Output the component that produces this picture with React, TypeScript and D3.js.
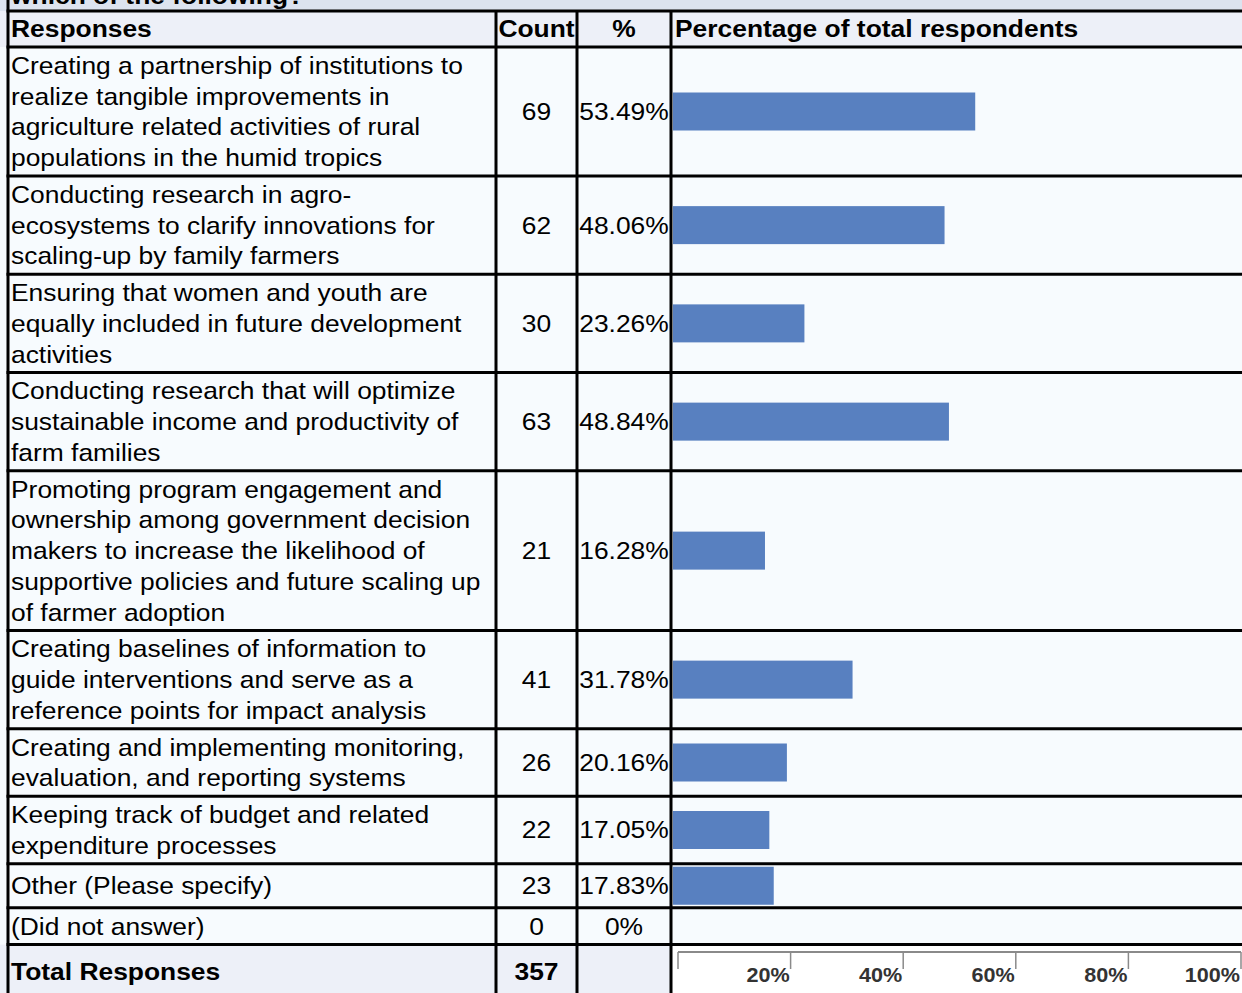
import * as d3 from 'd3';

// survey responses, wrapped as in the original table
const responseLines: string[][] = [
  ['Creating a partnership of institutions to', 'realize tangible improvements in', 'agriculture related activities of rural', 'populations in the humid tropics'],
  ['Conducting research in agro-', 'ecosystems to clarify innovations for', 'scaling-up by family farmers'],
  ['Ensuring that women and youth are', 'equally included in future development', 'activities'],
  ['Conducting research that will optimize', 'sustainable income and productivity of', 'farm families'],
  ['Promoting program engagement and', 'ownership among government decision', 'makers to increase the likelihood of', 'supportive policies and future scaling up', 'of farmer adoption'],
  ['Creating baselines of information to', 'guide interventions and serve as a', 'reference points for impact analysis'],
  ['Creating and implementing monitoring,', 'evaluation, and reporting systems'],
  ['Keeping track of budget and related', 'expenditure processes'],
  ['Other (Please specify)'],
  ['(Did not answer)'],
];
const counts = [69, 62, 30, 63, 21, 41, 26, 22, 23, 0];
const percents = [53.49, 48.06, 23.26, 48.84, 16.28, 31.78, 20.16, 17.05, 17.83, 0];
const totalResponses = 357;
const axisTicks = [20, 40, 60, 80, 100];

const W = 1242;
const H = 993;
const FONT = '"Liberation Sans", Arial, sans-serif';
const FS = 24;
const SX = 1.1; // the source text is drawn a bit wide
const LINE_H = 30.75;
const PAD = 6;
const BAR_H = 38;

const colX = { left: 8, count: 496, pct: 577, bar: 671, right: W };
const titleBottom = 11;
const headerBottom = 47;

type TProps = {
  x: number; y: number; children: any; anchor?: string; bold?: boolean;
  size?: number; fill?: string; sx?: number; dy?: string;
};
function T({ x, y, children, anchor = 'start', bold = false, size = FS, fill = '#000', sx = SX, dy = '0.35em' }: TProps) {
  return (
    <text transform={`translate(${x},${y}) scale(${sx},1)`} dy={dy} textAnchor={anchor}
      fontSize={size} fontWeight={bold ? 'bold' : 'normal'} fill={fill}>{children}</text>
  );
}

export default function App() {
  // row geometry
  const heights = responseLines.map((ls, i) =>
    Math.max(ls.length * LINE_H + PAD, percents[i] > 0 ? BAR_H + PAD : 0));
  const tops: number[] = [];
  let acc = headerBottom;
  heights.forEach(h => { tops.push(acc); acc += h; });
  const totalTop = acc;
  const totalH = 56;

  const x = d3.scaleLinear().domain([0, 100]).range([colX.bar + 2, 1238]);
  const xAxis = d3.scaleLinear().domain([0, 100]).range([678, 1241]);
  const axisY = 952;

  const fmtPct = (v: number) => (v === 0 ? '0%' : `${v.toFixed(2)}%`);
  const midCount = (colX.count + colX.pct) / 2;
  const midPct = (colX.pct + colX.bar) / 2;
  const headY = (titleBottom + headerBottom) / 2;

  const hLines = [titleBottom, headerBottom, ...tops.slice(1), totalTop];

  return (
    <svg width={W} height={H} style={{ position: 'absolute', left: 0, top: 0, display: 'block' }}
      fontFamily={FONT}>
      {/* title strip */}
      <rect x={0} y={0} width={W} height={titleBottom} fill="#dce3ef" />
      <T x={11} y={4} dy="0" bold>which of the following?</T>
      {/* header */}
      <rect x={0} y={titleBottom} width={W} height={headerBottom - titleBottom} fill="#edf0f8" />
      {/* body */}
      <rect x={0} y={headerBottom} width={W} height={totalTop - headerBottom} fill="#f7fbfe" />
      {/* total row */}
      <rect x={0} y={totalTop} width={colX.bar} height={totalH} fill="#edf0f8" />
      <rect x={colX.bar} y={totalTop} width={W - colX.bar} height={totalH} fill="#ffffff" />

      <T x={11} y={headY} bold>Responses</T>
      <T x={midCount} y={headY} anchor="middle" bold>Count</T>
      <T x={midPct} y={headY} anchor="middle" bold>%</T>
      <T x={675} y={headY} bold>Percentage of total respondents</T>

      {responseLines.map((ls, i) => {
        const cy = tops[i] + heights[i] / 2;
        const firstY = cy - ((ls.length - 1) * LINE_H) / 2;
        return (
          <g key={i}>
            {ls.map((l, j) => (
              <T key={j} x={11} y={firstY + j * LINE_H}>{l}</T>
            ))}
            <T x={midCount} y={cy} anchor="middle">{counts[i]}</T>
            <T x={midPct} y={cy} anchor="middle">{fmtPct(percents[i])}</T>
            {percents[i] > 0 && (
              <rect x={x(0)} y={cy - BAR_H / 2} width={x(percents[i]) - x(0)} height={BAR_H} fill="#5880c0" />
            )}
          </g>
        );
      })}

      <T x={11} y={totalTop + 27} bold>Total Responses</T>
      <T x={midCount} y={totalTop + 27} anchor="middle" bold>{totalResponses}</T>

      {/* axis */}
      <g>
        <line x1={xAxis(0)} x2={xAxis(100)} y1={axisY} y2={axisY} stroke="#8a8a8a" strokeWidth={2} />
        {[0, ...axisTicks].map(t => (
          <line key={t} x1={xAxis(t)} x2={xAxis(t)} y1={axisY} y2={axisY + 17} stroke="#8a8a8a" strokeWidth={1.5} />
        ))}
        {axisTicks.map(t => (
          <T key={t} x={xAxis(t) - 1} y={982} dy="0" anchor="end" size={20} sx={1.08} bold fill="#333">{`${t}%`}</T>
        ))}
      </g>

      {/* grid lines */}
      <g stroke="#000" strokeWidth={3}>
        {hLines.map((y, i) => (
          <line key={i} x1={colX.left - 1.5} x2={W} y1={y} y2={y} />
        ))}
        <line x1={colX.left} x2={colX.left} y1={0} y2={H} />
        {[colX.count, colX.pct, colX.bar].map(cx => (
          <line key={cx} x1={cx} x2={cx} y1={titleBottom} y2={H} />
        ))}
      </g>
    </svg>
  );
}
